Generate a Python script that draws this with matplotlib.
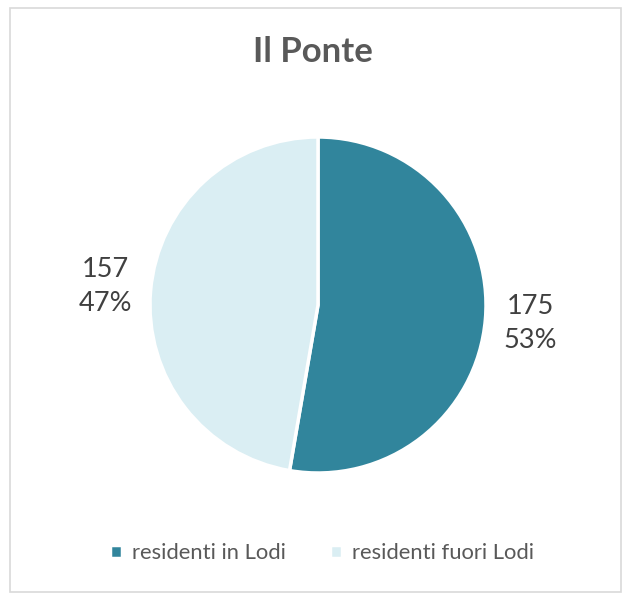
import matplotlib.pyplot as plt
from matplotlib.patches import Rectangle

labels = ["residenti in Lodi", "residenti fuori Lodi"]
values = [175, 157]
colors = ["#31859C", "#DAEEF3"]

plt.rcParams['font.family'] = ['Lato', 'DejaVu Sans']
W, H = 623, 594
fig = plt.figure(figsize=(W / 100, H / 100), dpi=100)

# light grey chart frame
fig.patches.append(Rectangle((10 / W, 2 / H), 611 / W, 584 / H, transform=fig.transFigure,
                             fill=False, edgecolor="#D9D9D9", linewidth=1.2))

fig.text(313 / W, 1 - 52 / H, "Il Ponte", ha="center", va="center",
         fontsize=25, fontweight="bold", color="#595959")

cx, cy, r = 318, 289, 168
ax = fig.add_axes([(cx - r) / W, (cy - r) / H, 2 * r / W, 2 * r / H])
total = sum(values)
wedges, _ = ax.pie(values, colors=colors, startangle=90, counterclock=False,
                   wedgeprops=dict(edgecolor="white", linewidth=2.5),
                   labels=[f"{v}\n{round(v / total * 100)}%" for v in values],
                   labeldistance=1.27,
                   textprops=dict(ha="center", va="center", fontsize=19.5,
                                  color="#404040", linespacing=1.45))
ax.set_xlim(-1, 1); ax.set_ylim(-1, 1); ax.set_aspect("equal")

fig.legend(wedges, labels, loc="center", bbox_to_anchor=(322 / W, 1 - 553 / H), ncol=2,
           frameon=False, fontsize=15.8, handlelength=0.55, handleheight=0.55,
           handletextpad=0.45, columnspacing=2.0, labelcolor="#595959")

fig.savefig("out.png", dpi=100)
